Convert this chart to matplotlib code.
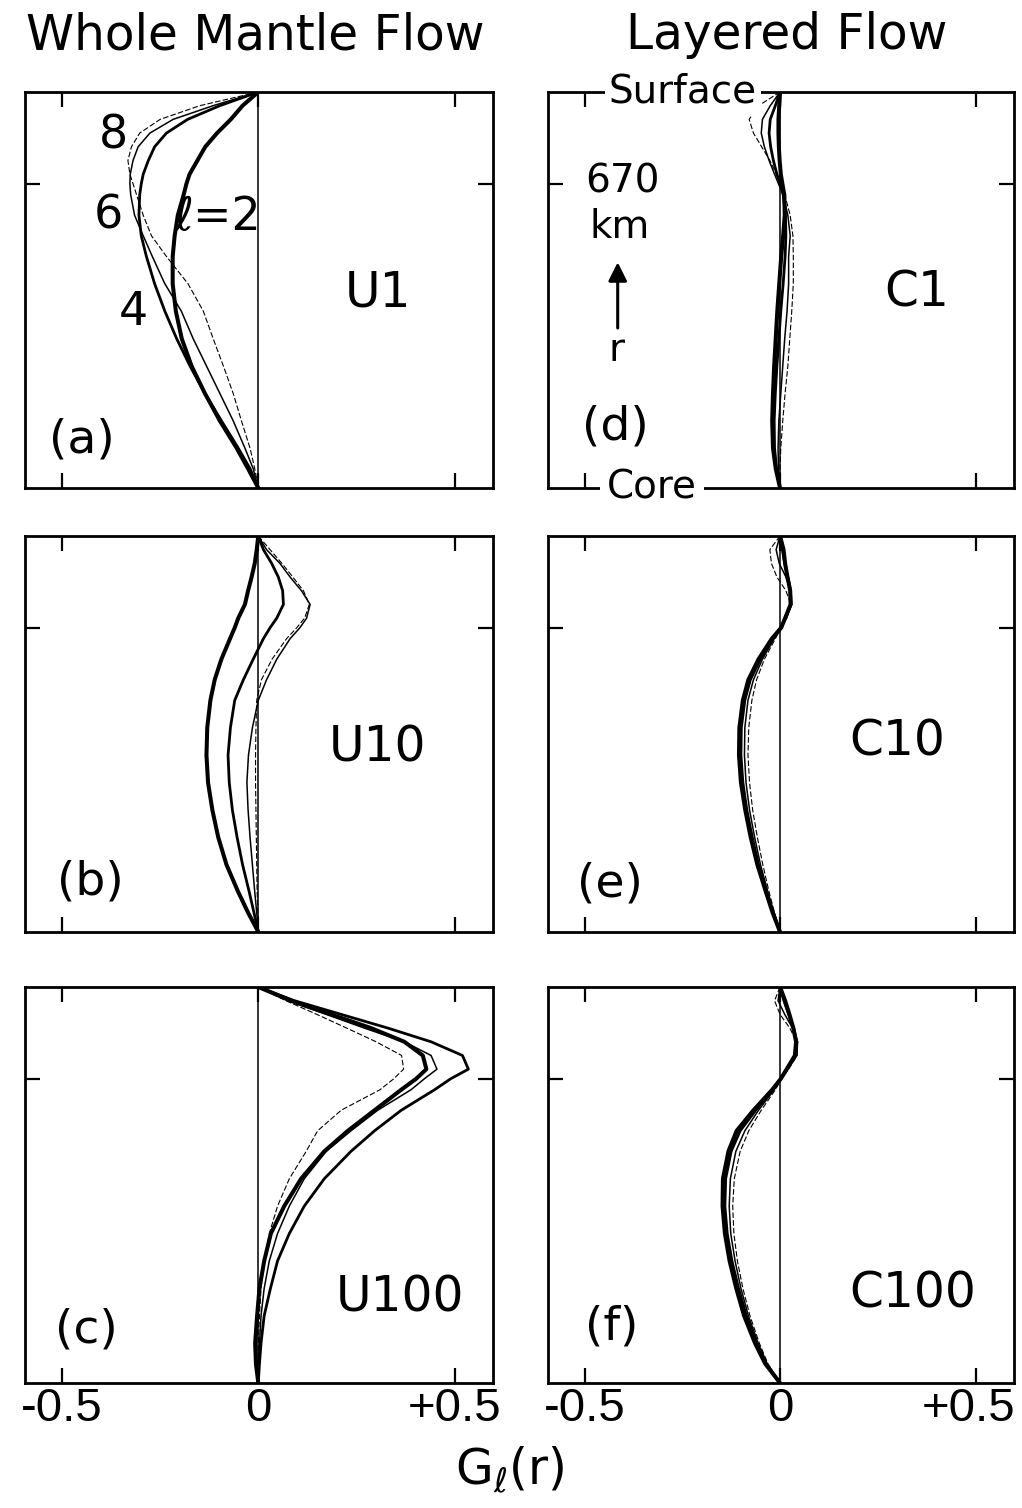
import matplotlib
matplotlib.use("Agg")
import matplotlib.pyplot as plt
from matplotlib.transforms import ScaledTranslation

plt.rcParams["font.family"] = ["DejaVu Sans"]
plt.rcParams["mathtext.fontset"] = "dejavusans"

TICK_FAMILY = ["Liberation Sans", "DejaVu Sans"]

R_SURFACE = 6371.0
R_CORE = 3480.0
D_TRANSITION = 670.0

# Depth levels (km below the surface) at which the kernels are tabulated
depth_km = [0, 100, 200, 300, 400, 500, 600, 670, 750, 900, 1050, 1200,
            1400, 1600, 1800, 2000, 2200, 2400, 2600, 2750, 2891]

degrees = [2, 4, 6, 8]

# Whole mantle flow, viscosity models U1, U10, U100
U1_L2 = [0, -0.040, -0.070, -0.105, -0.135, -0.155, -0.175, -0.183, -0.190, -0.205, -0.213,
         -0.218, -0.218, -0.210, -0.195, -0.170, -0.136, -0.098, -0.055, -0.026, 0]
U1_L4 = [0, -0.098, -0.180, -0.234, -0.264, -0.280, -0.293, -0.298, -0.302, -0.304, -0.298,
         -0.285, -0.264, -0.238, -0.208, -0.174, -0.136, -0.094, -0.051, -0.021, 0]
U1_L6 = [0, -0.115, -0.217, -0.276, -0.306, -0.319, -0.326, -0.327, -0.325, -0.315, -0.293,
         -0.270, -0.238, -0.196, -0.166, -0.132, -0.098, -0.064, -0.034, -0.013, 0]
U1_L8 = [0, -0.149, -0.250, -0.302, -0.323, -0.332, -0.327, -0.319, -0.310, -0.293, -0.272,
         -0.234, -0.179, -0.140, -0.115, -0.089, -0.064, -0.043, -0.021, -0.009, 0]

U10_L2 = [0, -0.004, -0.009, -0.017, -0.026, -0.034, -0.051, -0.060, -0.072, -0.094, -0.111,
          -0.122, -0.130, -0.132, -0.128, -0.117, -0.102, -0.081, -0.051, -0.026, 0]
U10_L4 = [0, 0.013, 0.034, 0.051, 0.062, 0.064, 0.047, 0.030, 0.013, -0.013, -0.038,
          -0.060, -0.071, -0.077, -0.074, -0.066, -0.054, -0.040, -0.023, -0.011, 0]
U10_L6 = [0, 0.021, 0.055, 0.081, 0.110, 0.132, 0.123, 0.106, 0.081, 0.047, 0.021,
          0.000, -0.015, -0.025, -0.029, -0.026, -0.021, -0.015, -0.009, -0.004, 0]
U10_L8 = [0, 0.030, 0.060, 0.088, 0.115, 0.130, 0.118, 0.098, 0.072, 0.035, 0.008,
          -0.004, -0.006, -0.007, -0.007, -0.006, -0.005, -0.004, -0.003, -0.001, 0]

U100_L2 = [0, 0.083, 0.185, 0.287, 0.372, 0.419, 0.428, 0.402, 0.364, 0.296, 0.228,
           0.168, 0.109, 0.066, 0.032, 0.015, 0.003, -0.003, -0.008, -0.006, 0]
U100_L4 = [0, 0.092, 0.211, 0.330, 0.440, 0.520, 0.535, 0.490, 0.449, 0.364, 0.296,
           0.236, 0.168, 0.117, 0.079, 0.049, 0.031, 0.015, 0.007, 0.003, 0]
U100_L6 = [0, 0.075, 0.173, 0.270, 0.372, 0.440, 0.455, 0.423, 0.389, 0.304, 0.236,
           0.173, 0.117, 0.079, 0.049, 0.028, 0.015, 0.007, 0.003, 0.000, 0]
U100_L8 = [0, 0.070, 0.149, 0.225, 0.300, 0.365, 0.370, 0.345, 0.310, 0.211, 0.151,
           0.122, 0.079, 0.049, 0.028, 0.015, 0.007, 0.003, 0.000, 0.000, 0]

# Layered flow, viscosity models C1, C10, C100
C1_L2 = [0, -0.002, -0.004, -0.004, -0.003, -0.001, 0.002, 0.006, 0.011, 0.012, 0.008,
         0.003, -0.002, -0.007, -0.011, -0.015, -0.018, -0.020, -0.018, -0.011, 0]
C1_L4 = [0, -0.012, -0.025, -0.028, -0.024, -0.017, -0.008, 0.000, 0.008, 0.014, 0.015,
         0.013, 0.008, 0.002, -0.003, -0.008, -0.012, -0.015, -0.014, -0.009, 0]
C1_L6 = [0, -0.025, -0.045, -0.048, -0.040, -0.028, -0.014, -0.004, 0.008, 0.020, 0.026,
         0.022, 0.022, 0.018, 0.012, 0.007, 0.002, -0.003, -0.005, -0.004, 0]
C1_L8 = [0, -0.055, -0.079, -0.068, -0.047, -0.026, -0.009, 0.000, 0.012, 0.026, 0.033,
         0.034, 0.034, 0.030, 0.025, 0.020, 0.013, 0.007, 0.002, 0.000, 0]

C10_L2 = [0, 0.009, 0.013, 0.019, 0.026, 0.027, 0.013, 0.003, -0.021, -0.055, -0.081,
          -0.095, -0.104, -0.105, -0.100, -0.089, -0.075, -0.058, -0.036, -0.019, 0]
C10_L4 = [0, 0.006, 0.012, 0.020, 0.027, 0.028, 0.014, 0.002, -0.018, -0.050, -0.076,
          -0.090, -0.099, -0.100, -0.095, -0.085, -0.071, -0.055, -0.034, -0.017, 0]
C10_L6 = [0, -0.010, -0.002, 0.015, 0.028, 0.030, 0.016, 0.002, -0.015, -0.045, -0.068,
          -0.082, -0.090, -0.091, -0.087, -0.078, -0.065, -0.050, -0.031, -0.016, 0]
C10_L8 = [0, -0.026, -0.022, -0.008, 0.015, 0.028, 0.017, 0.003, -0.012, -0.040, -0.060,
          -0.072, -0.080, -0.082, -0.078, -0.070, -0.058, -0.044, -0.028, -0.014, 0]

C100_L2 = [0, 0.013, 0.024, 0.034, 0.041, 0.038, 0.017, 0.002, -0.020, -0.068, -0.111,
           -0.132, -0.146, -0.147, -0.141, -0.129, -0.112, -0.092, -0.064, -0.038, 0]
C100_L4 = [0, 0.010, 0.022, 0.035, 0.043, 0.040, 0.018, 0.002, -0.018, -0.062, -0.102,
           -0.125, -0.139, -0.141, -0.135, -0.123, -0.106, -0.086, -0.060, -0.035, 0]
C100_L6 = [0, -0.005, 0.012, 0.032, 0.045, 0.043, 0.020, 0.003, -0.015, -0.055, -0.090,
           -0.113, -0.127, -0.130, -0.126, -0.115, -0.100, -0.081, -0.056, -0.033, 0]
C100_L8 = [0, -0.014, 0.000, 0.025, 0.042, 0.044, 0.022, 0.004, -0.012, -0.048, -0.080,
           -0.102, -0.117, -0.121, -0.118, -0.109, -0.095, -0.077, -0.053, -0.031, 0]

column_titles = ["Whole Mantle Flow", "Layered Flow"]
x_tick_values = [-0.5, 0, 0.5]
x_tick_labels = ["-0.5", "0", "+0.5"]

radius_km = [R_SURFACE - d for d in depth_km]

line_styles = {
    2: dict(lw=2.9, ls="-"),
    4: dict(lw=2.0, ls="-"),
    6: dict(lw=1.1, ls="-"),
    8: dict(lw=0.8, ls=(0, (5, 2))),
}

fig = plt.figure(figsize=(10.22, 15.08), dpi=100)

col_left = [0.0245, 0.536]
col_width = [0.458, 0.456]
row_bottom = [0.6764, 0.3820, 0.0829]
row_height = 0.2626

panels = [
    # (row, col, kernels, tag, model name, tag pos, name pos)
    (0, 0, [U1_L2, U1_L4, U1_L6, U1_L8], "(a)", "U1", (0.122, 0.122), (0.754, 0.494)),
    (1, 0, [U10_L2, U10_L4, U10_L6, U10_L8], "(b)", "U10", (0.139, 0.126), (0.752, 0.467)),
    (2, 0, [U100_L2, U100_L4, U100_L6, U100_L8], "(c)", "U100", (0.132, 0.133), (0.801, 0.216)),
    (0, 1, [C1_L2, C1_L4, C1_L6, C1_L8], "(d)", "C1", (0.144, 0.154), (0.792, 0.494)),
    (1, 1, [C10_L2, C10_L4, C10_L6, C10_L8], "(e)", "C10", (0.133, 0.122), (0.749, 0.481)),
    (2, 1, [C100_L2, C100_L4, C100_L6, C100_L8], "(f)", "C100", (0.137, 0.141), (0.783, 0.226)),
]

axes = {}
for row, col, kernels, tag, name, tag_pos, name_pos in panels:
    ax = fig.add_axes([col_left[col], row_bottom[row], col_width[col], row_height])
    axes[(row, col)] = ax
    ax.set_xlim(-0.594, 0.598)
    ax.set_ylim(R_CORE, R_SURFACE)
    ax.axvline(0, color="black", lw=1.1, zorder=1)
    for deg, g in zip(degrees, kernels):
        st = line_styles[deg]
        ax.plot(g, radius_km, color="black", lw=st["lw"], ls=st["ls"],
                solid_joinstyle="round", solid_capstyle="round", zorder=2)

    ax.set_xticks(x_tick_values)
    ax.set_xticklabels(x_tick_labels, family=TICK_FAMILY, fontsize=34)
    ax.set_yticks([R_SURFACE - D_TRANSITION])
    ax.set_yticklabels([])
    ax.tick_params(direction="in", length=10.5, width=1.6, top=True, right=True,
                   pad=3, labelbottom=(row == 2))
    for s in ax.spines.values():
        s.set_linewidth(2.0)

    ax.text(*tag_pos, tag, transform=ax.transAxes, ha="center", va="center", fontsize=34)
    ax.text(*name_pos, name, transform=ax.transAxes, ha="center", va="center", fontsize=35)

# Keep the right-most tick label inside the figure
ax_f = axes[(2, 1)]
last_label = ax_f.get_xticklabels()[-1]
last_label.set_transform(last_label.get_transform()
                         + ScaledTranslation(-7 / 100, 0, fig.dpi_scale_trans))

# Degree labels on the whole-mantle U1 panel
ax_a = axes[(0, 0)]
for txt, pos in [("8", (0.188, 0.889)), ("6", (0.177, 0.686)),
                 ("4", (0.231, 0.443))]:
    ax_a.text(*pos, txt, transform=ax_a.transAxes, ha="center", va="center", fontsize=33)
ax_a.text(0.412, 0.684, "\u2113=2", transform=ax_a.transAxes, ha="center", va="center",
          fontsize=33)

# Depth annotations on the layered C1 panel
ax_d = axes[(0, 1)]
ax_d.text(0.29, 1.0, "Surface", transform=ax_d.transAxes, ha="center", va="center",
          fontsize=28, zorder=10, clip_on=False,
          bbox=dict(facecolor="white", edgecolor="none", pad=3))
ax_d.text(0.223, 0.0, "Core", transform=ax_d.transAxes, ha="center", va="center",
          fontsize=28, zorder=10, clip_on=False,
          bbox=dict(facecolor="white", edgecolor="none", pad=5))
ax_d.text(0.161, 0.773, "670", transform=ax_d.transAxes, ha="center", va="center",
          fontsize=28, zorder=10, bbox=dict(facecolor="white", edgecolor="none", pad=1))
ax_d.text(0.155, 0.659, "km", transform=ax_d.transAxes, ha="center", va="center",
          fontsize=28)
ax_d.text(0.148, 0.348, "r", transform=ax_d.transAxes, ha="center", va="center",
          fontsize=28)
ax_d.annotate("", xy=(0.150, 0.570), xytext=(0.150, 0.404),
              xycoords="axes fraction", textcoords="axes fraction",
              arrowprops=dict(arrowstyle="-|>", lw=2.2, color="black",
                              mutation_scale=28, shrinkA=0, shrinkB=0))

fig.text(255 / 1022, 1 - 35 / 1508, column_titles[0], ha="center", va="center", fontsize=35)
fig.text(787 / 1022, 1 - 35 / 1508, column_titles[1], ha="center", va="center", fontsize=35)
fig.text(510 / 1022, 1 - 1470 / 1508, r"$\mathrm{G}_{\ell}\mathrm{(r)}$", ha="center",
         va="center", fontsize=35)

fig.savefig("out.png", dpi=100, facecolor="white")
